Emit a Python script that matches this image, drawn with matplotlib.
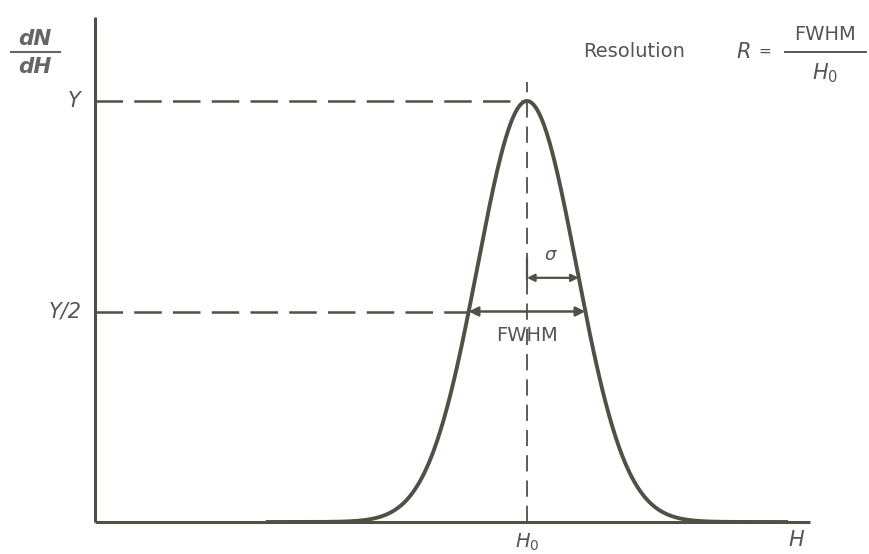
import numpy as np
import matplotlib; matplotlib.use("Agg")
import matplotlib.pyplot as plt

# peak parameters (arbitrary units)
H0 = 10.0        # peak position
Y = 1.0          # peak height
FWHM = 2.7       # full width at half maximum
sigma = FWHM / (2 * np.sqrt(2 * np.log(2)))

H_MAX = 16.55    # end of the H axis
Y_TOP = 1.20     # top of the dN/dH axis
SIG_Y = 0.58     # height of the sigma arrow

ink = "#4c5344"
txt = "#555555"

fig = plt.figure(figsize=(8.7, 5.54), dpi=100)
fig.patch.set_facecolor("white")
ax = fig.add_axes([0, 0, 1, 1]); ax.axis("off")
ax.set_xlim(-95/43.2, (870-95)/43.2)
ax.set_ylim(-32/421, 522/421)

# axes
ax.plot([0, 0], [0, Y_TOP], color=ink, lw=2.2, solid_capstyle="butt")
ax.plot([0, H_MAX], [0, 0], color=ink, lw=2.2, solid_capstyle="butt")

# gaussian peak
H = np.linspace(4.0, 16.0, 600)
N = Y * np.exp(-(H - H0)**2 / (2 * sigma**2))
ax.plot(H, N, color=ink, lw=2.8)

# guide lines
half_left = H0 - FWHM / 2
ax.plot([0, H0], [Y, Y], color=ink, lw=1.8, dashes=(11, 4.5))
ax.plot([0, half_left], [Y/2, Y/2], color=ink, lw=1.8, dashes=(11, 4.5))
ax.plot([H0, H0], [0, 1.045], color=ink, lw=1.3, dashes=(9, 5))

# FWHM arrow
ax.annotate("", xy=(H0 - FWHM/2, Y/2), xytext=(H0 + FWHM/2, Y/2),
            arrowprops=dict(arrowstyle="<|-|>", color=ink, lw=1.8,
                            mutation_scale=14, shrinkA=0, shrinkB=0))
ax.text(H0, 0.443, "FWHM", ha="center", va="center", fontsize=14, color=txt)

# sigma arrow, from the centre line to the curve
sig_x = H0 + sigma * np.sqrt(2 * np.log(Y / SIG_Y))
ax.plot([H0, H0], [SIG_Y, SIG_Y + 0.045], color=ink, lw=1.6)
ax.annotate("", xy=(H0, SIG_Y), xytext=(sig_x, SIG_Y),
            arrowprops=dict(arrowstyle="<|-|>", color=ink, lw=1.6,
                            mutation_scale=11, shrinkA=0, shrinkB=0))
ax.text(H0 + 0.56, 0.634, r"$\sigma$", ha="center", va="center", fontsize=13, color=txt)

# axis labels
ax.text(-0.33, Y, "Y", ha="right", va="center", fontsize=15, color=txt, style="italic")
ax.text(-0.3, Y/2, "Y/2", ha="right", va="center", fontsize=15, color=txt, style="italic")
ax.text(-1.38, 1.148, "dN", ha="center", va="center", fontsize=15.5, color="#666666",
        style="italic", fontweight="bold")
ax.plot([-1.95, -0.8], [1.117, 1.117], color="#666666", lw=1.5)
ax.text(-1.38, 1.080, "dH", ha="center", va="center", fontsize=15.5, color="#666666",
        style="italic", fontweight="bold")
ax.text(H0, -0.049, r"$H_0$", ha="center", va="center", fontsize=14, color=txt)
ax.text(16.25, -0.043, r"$H$", ha="center", va="center", fontsize=15, color=txt)

# resolution formula
ax.text(11.3, 1.117, "Resolution", ha="left", va="center", fontsize=14, color=txt)
ax.text(15.0, 1.117, r"$R$", ha="center", va="center", fontsize=15, color=txt,
        fontweight="bold")
ax.text(15.5, 1.117, "=", ha="center", va="center", fontsize=11, color=txt)
ax.plot([15.97, 17.85], [1.117, 1.117], color=txt, lw=1.4)
ax.text(16.9, 1.159, "FWHM", ha="center", va="center", fontsize=14, color=txt)
ax.text(16.9, 1.066, r"$H_0$", ha="center", va="center", fontsize=15, color=txt)

fig.savefig("out.png", dpi=100)
